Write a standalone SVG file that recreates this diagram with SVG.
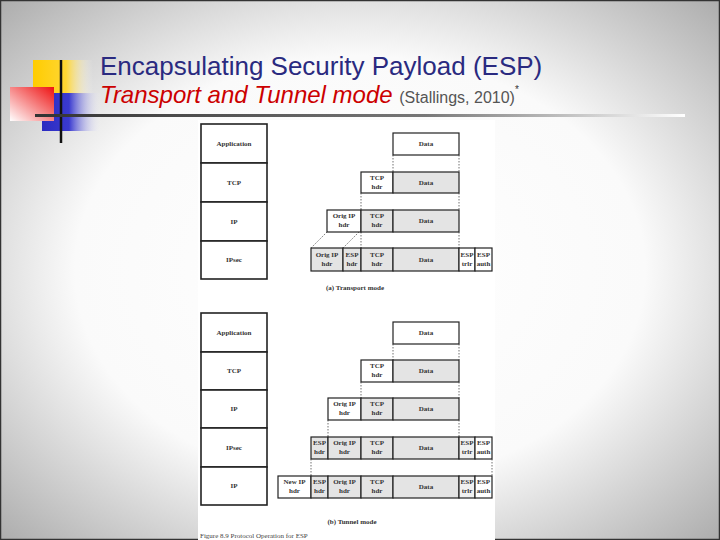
<svg xmlns="http://www.w3.org/2000/svg" width="720" height="540" viewBox="0 0 720 540">
<defs>
<radialGradient id="bg" cx="0.5" cy="0.5" r="0.72">
<stop offset="0" stop-color="#ffffff"/>
<stop offset="0.55" stop-color="#fafafa"/>
<stop offset="1" stop-color="#a9a9a9"/>
</radialGradient>
<linearGradient id="rule" x1="0" y1="0" x2="1" y2="0">
<stop offset="0" stop-color="#333"/>
<stop offset="0.6" stop-color="#777"/>
<stop offset="1" stop-color="#fff"/>
</linearGradient>
<linearGradient id="yel" x1="0" y1="0" x2="1" y2="0">
<stop offset="0" stop-color="#ffcc00"/>
<stop offset="0.55" stop-color="#ffd633"/>
<stop offset="1" stop-color="#ffffff" stop-opacity="0"/>
</linearGradient>
<linearGradient id="blu" x1="0" y1="0" x2="1" y2="0">
<stop offset="0" stop-color="#2b2bc0"/>
<stop offset="0.45" stop-color="#3a3ad0"/>
<stop offset="1" stop-color="#ffffff" stop-opacity="0"/>
</linearGradient>
<linearGradient id="red" x1="1" y1="0" x2="0" y2="1">
<stop offset="0" stop-color="#ee1111"/>
<stop offset="1" stop-color="#ffffff"/>
</linearGradient>
<style>
.cell{fill:#fff;stroke:#222;stroke-width:1.2}
.g{fill:#e4e4e4;stroke:#222;stroke-width:1.2}
.lt{fill:#f0f0f0;stroke:#222;stroke-width:1.2}
.lay{fill:#fff;stroke:#222;stroke-width:1.6}
.t{font-family:"Liberation Serif",serif;font-size:7px;fill:#333;text-anchor:middle;font-weight:bold}
.cap{font-family:"Liberation Serif",serif;font-size:7px;fill:#333;text-anchor:middle;font-weight:bold}
.d{stroke:#333;stroke-width:0.7;stroke-dasharray:1.5,1.5;fill:none}
</style>
</defs>
<rect x="0" y="0" width="720" height="540" fill="url(#bg)"/>
<rect x="0.5" y="0.5" width="719" height="539" fill="none" stroke="#333" stroke-width="1.5"/>

<g id="logo">
<rect x="33" y="60" width="60" height="34" fill="url(#yel)"/>
<rect x="42" y="93" width="60" height="38" fill="url(#blu)"/>
<rect x="10" y="87" width="44" height="34" fill="url(#red)"/>
<line x1="61" y1="60" x2="61" y2="143" stroke="#111" stroke-width="2.5"/>
</g>
<rect x="35" y="114" width="650" height="3" fill="url(#rule)"/>

<g id="title">
<text x="100" y="75" font-family="Liberation Sans, Arial, sans-serif" font-size="26" fill="#2a2a80">Encapsulating Security Payload (ESP)</text>
<text x="100" y="103" font-family="Liberation Sans, Arial, sans-serif" font-size="24" font-style="italic" fill="#cc0000">Transport and Tunnel mode <tspan font-style="normal" font-size="16" fill="#555">(Stallings, 2010)</tspan><tspan font-style="normal" font-size="10" fill="#333" dy="-10">*</tspan></text>
</g>

<rect x="198" y="120" width="297" height="420" fill="#fff"/>

<g id="transport">
<g id="t-layers">
<rect class="lay" x="201" y="124" width="66" height="39"/><text class="t" x="234" y="146">Application</text>
<rect class="lay" x="201" y="163" width="66" height="39"/><text class="t" x="234" y="185">TCP</text>
<rect class="lay" x="201" y="202" width="66" height="39"/><text class="t" x="234" y="224">IP</text>
<rect class="lay" x="201" y="241" width="66" height="38"/><text class="t" x="234" y="262">IPsec</text>
</g>
<g id="t-app">
<rect class="cell" x="393" y="133" width="66" height="22"/><text class="t" x="426" y="146">Data</text>
</g>
<g id="t-tcp">
<rect class="cell" x="361" y="172" width="32" height="21"/><text class="t" x="377" y="180">TCP</text><text class="t" x="377" y="189">hdr</text>
<rect class="g" x="393" y="172" width="66" height="21"/><text class="t" x="426" y="185">Data</text>
</g>
<g id="t-ip">
<rect class="cell" x="327" y="210" width="34" height="22"/><text class="t" x="344" y="218">Orig IP</text><text class="t" x="344" y="227">hdr</text>
<rect class="g" x="361" y="210" width="32" height="22"/><text class="t" x="377" y="218">TCP</text><text class="t" x="377" y="227">hdr</text>
<rect class="g" x="393" y="210" width="66" height="22"/><text class="t" x="426" y="223">Data</text>
</g>
<g id="t-ipsec">
<rect class="g" x="311" y="248" width="32" height="23"/><text class="t" x="327" y="257">Orig IP</text><text class="t" x="327" y="266">hdr</text>
<rect class="g" x="343" y="248" width="18" height="23"/><text class="t" x="352" y="257">ESP</text><text class="t" x="352" y="266">hdr</text>
<rect class="g" x="361" y="248" width="32" height="23"/><text class="t" x="377" y="257">TCP</text><text class="t" x="377" y="266">hdr</text>
<rect class="g" x="393" y="248" width="66" height="23"/><text class="t" x="426" y="262">Data</text>
<rect class="cell" x="459" y="248" width="16" height="23"/><text class="t" x="467" y="257">ESP</text><text class="t" x="467" y="266">trlr</text>
<rect class="cell" x="475" y="248" width="17" height="23"/><text class="t" x="483.5" y="257">ESP</text><text class="t" x="483.5" y="266">auth</text>
</g>
<text class="cap" x="355" y="290">(a) Transport mode</text>
</g>

<g id="tunnel">
<g id="u-layers">
<rect class="lay" x="201" y="313" width="66" height="39"/><text class="t" x="234" y="335">Application</text>
<rect class="lay" x="201" y="352" width="66" height="38"/><text class="t" x="234" y="373">TCP</text>
<rect class="lay" x="201" y="390" width="66" height="38"/><text class="t" x="234" y="411">IP</text>
<rect class="lay" x="201" y="428" width="66" height="39"/><text class="t" x="234" y="450">IPsec</text>
<rect class="lay" x="201" y="467" width="66" height="38"/><text class="t" x="234" y="488">IP</text>
</g>
<g id="u-app">
<rect class="cell" x="393" y="322" width="66" height="22"/><text class="t" x="426" y="335">Data</text>
</g>
<g id="u-tcp">
<rect class="cell" x="361" y="360" width="32" height="22"/><text class="t" x="377" y="368">TCP</text><text class="t" x="377" y="377">hdr</text>
<rect class="g" x="393" y="360" width="66" height="22"/><text class="t" x="426" y="373">Data</text>
</g>
<g id="u-ip">
<rect class="cell" x="328" y="398" width="33" height="22"/><text class="t" x="344.5" y="406">Orig IP</text><text class="t" x="344.5" y="415">hdr</text>
<rect class="g" x="361" y="398" width="32" height="22"/><text class="t" x="377" y="406">TCP</text><text class="t" x="377" y="415">hdr</text>
<rect class="g" x="393" y="398" width="66" height="22"/><text class="t" x="426" y="411">Data</text>
</g>
<g id="u-ipsec">
<rect class="g" x="311" y="437" width="17" height="22"/><text class="t" x="319.5" y="445">ESP</text><text class="t" x="319.5" y="454">hdr</text>
<rect class="g" x="328" y="437" width="33" height="22" stroke-width="1.8"/><text class="t" x="344.5" y="445">Orig IP</text><text class="t" x="344.5" y="454">hdr</text>
<rect class="g" x="361" y="437" width="32" height="22"/><text class="t" x="377" y="445">TCP</text><text class="t" x="377" y="454">hdr</text>
<rect class="g" x="393" y="437" width="66" height="22"/><text class="t" x="426" y="450">Data</text>
<rect class="lt" x="459" y="437" width="16" height="22"/><text class="t" x="467" y="445">ESP</text><text class="t" x="467" y="454">trlr</text>
<rect class="cell" x="475" y="437" width="17" height="22"/><text class="t" x="483.5" y="445">ESP</text><text class="t" x="483.5" y="454">auth</text>
</g>
<g id="u-ip2">
<rect class="cell" x="278" y="476" width="33" height="22"/><text class="t" x="294.5" y="484">New IP</text><text class="t" x="294.5" y="493">hdr</text>
<rect class="g" x="311" y="476" width="17" height="22"/><text class="t" x="319.5" y="484">ESP</text><text class="t" x="319.5" y="493">hdr</text>
<rect class="g" x="328" y="476" width="33" height="22"/><text class="t" x="344.5" y="484">Orig IP</text><text class="t" x="344.5" y="493">hdr</text>
<rect class="g" x="361" y="476" width="32" height="22"/><text class="t" x="377" y="484">TCP</text><text class="t" x="377" y="493">hdr</text>
<rect class="g" x="393" y="476" width="66" height="22"/><text class="t" x="426" y="489">Data</text>
<rect class="lt" x="459" y="476" width="16" height="22"/><text class="t" x="467" y="484">ESP</text><text class="t" x="467" y="493">trlr</text>
<rect class="cell" x="475" y="476" width="17" height="22"/><text class="t" x="483.5" y="484">ESP</text><text class="t" x="483.5" y="493">auth</text>
</g>
<text class="cap" x="352" y="524">(b) Tunnel mode</text>
</g>
<text x="200" y="538" font-family="Liberation Serif, serif" font-size="7" fill="#444">Figure 8.9    Protocol Operation for ESP</text>

<g id="connectors">
<path class="d" d="M393 155V172M459 155V172M361 193V210M459 193V210M327 232L311 248M359 232L343 248M361 232V248M459 232V248"/>
<path class="d" d="M393 344V360M459 344V360M361 382V398M459 382V398M328 420V437M459 420V437M311 459V476M492 459V476"/>
</g>
</svg>
